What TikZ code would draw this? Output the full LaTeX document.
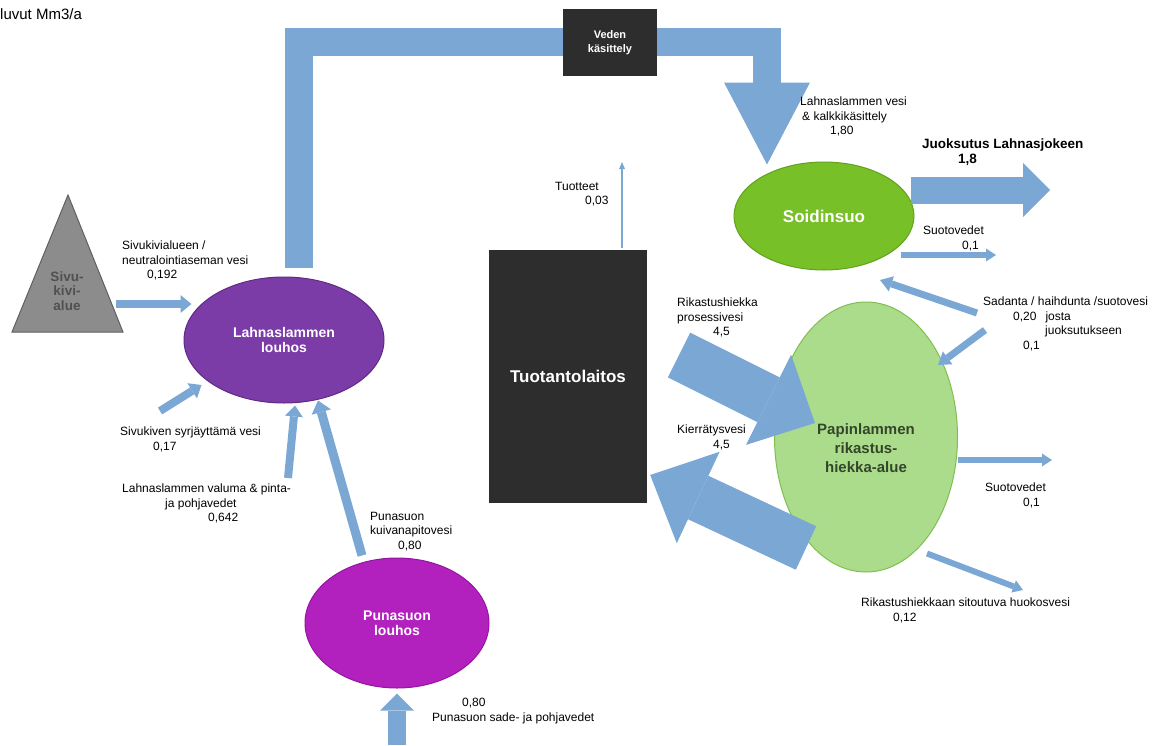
\documentclass[tikz,border=0pt]{standalone}
\usepackage{fontspec}
\setmainfont{Liberation Sans}
\usetikzlibrary{arrows.meta, positioning, shapes.geometric}

\definecolor{flowblue}{RGB}{123,167,212}
\definecolor{darkbox}{RGB}{45,45,45}
\definecolor{rockgray}{RGB}{140,140,140}
\definecolor{rockedge}{RGB}{95,95,95}
\definecolor{rocktext}{RGB}{80,80,80}
\definecolor{lahnafill}{RGB}{124,60,168}
\definecolor{lahnaedge}{RGB}{96,42,132}
\definecolor{punafill}{RGB}{178,32,190}
\definecolor{punaedge}{RGB}{148,22,160}
\definecolor{soidfill}{RGB}{120,192,40}
\definecolor{soidedge}{RGB}{98,160,30}
\definecolor{papinfill}{RGB}{170,220,140}
\definecolor{papinedge}{RGB}{128,190,80}
\definecolor{papintext}{RGB}{52,70,42}

\tikzset{
  lbl/.style={font=\fontsize{12}{14.5}\selectfont, align=left, anchor=north west, inner sep=0pt},
  pond/.style={ellipse, draw, line width=1pt, inner sep=0pt, align=center, text=white,
    font=\bfseries\fontsize{14}{15.5}\selectfont},
  plant/.style={rectangle, fill=darkbox, text=white, inner sep=0pt, align=center},
  flow/.style n args={3}{draw=flowblue, line width=#1,
    -{Triangle[width=#2, length=#3, line width=0pt]}}
}

\begin{document}
\begin{tikzpicture}[x=1pt, y=-1pt]
  \useasboundingbox (0,0) rectangle (1165,745);

  % Side rock area
  \fill[rockgray, draw=rockedge, line width=1pt] (68,195) -- (123,332) -- (12,332) -- cycle;
  \node[text=rocktext, font=\bfseries\fontsize{13.5}{14.5}\selectfont, align=center] (sivu) at (67,291) {Sivu-\\kivi-\\alue};

  % Pits, ponds and plant
  \node[pond, fill=lahnafill, draw=lahnaedge, minimum width=200pt, minimum height=126pt] (lahna) at (284,340) {Lahnaslammen\\louhos};
  \node[pond, fill=punafill, draw=punaedge, minimum width=184pt, minimum height=130pt] (puna) at (397,623) {Punasuon\\louhos};
  \node[pond, fill=soidfill, draw=soidedge, minimum width=180pt, minimum height=108pt,
    font=\bfseries\fontsize{17}{19}\selectfont] (soid) at (824,216) {Soidinsuo};
  \node[pond, fill=papinfill, draw=papinedge, minimum width=183pt, minimum height=270pt] (papin) at (866,437) {};
  \node[plant, minimum width=158pt, minimum height=253pt, font=\bfseries\fontsize{17}{19}\selectfont] (tuotanto) at (568,376.5) {Tuotantolaitos};

  % Pipe via water treatment
  \draw[flow={28pt}{86pt}{82pt}, line join=miter] ([xshift=14.5pt,yshift=9pt]lahna.north) -- (298.5,42) -- (767,42) -- ([xshift=-57pt,yshift=-3pt]soid.north);
  \node[plant, minimum width=94pt, minimum height=67pt, font=\bfseries\fontsize{11}{14}\selectfont] (veden) at (610,42.5) {Veden\\käsittely};

  % Free ends
  \coordinate (sivuOut) at (116,304);
  \coordinate (syrjIn) at (160,411);
  \coordinate (valumaIn) at (288,478);
  \coordinate (sadeIn) at (397,745);
  \coordinate (tuotteetOut) at (622,162);
  \coordinate (juoksOut) at (1050,190);
  \coordinate (suoto1Out) at (996,255);
  \coordinate (sadanta1) at (977,313);
  \coordinate (sadanta2) at (985,330);
  \coordinate (suoto2Out) at (1052,460);
  \coordinate (huokosOut) at (1023,590);
  \coordinate (prosessiIn) at (679,355);

  % Flows
  \draw[flow={8pt}{18pt}{11pt}] (sivuOut) -- ([xshift=8pt,yshift=36pt]lahna.west);
  \draw[flow={8pt}{18pt}{11pt}] (syrjIn) -- ([xshift=18pt,yshift=-45pt]lahna.west);
  \draw[flow={8pt}{18pt}{11pt}] (valumaIn) -- ([xshift=11pt,yshift=-2pt]lahna.south);
  \draw[flow={9pt}{20pt}{12pt}] ([xshift=-35pt,yshift=2pt]puna.north) -- ([xshift=34pt,yshift=3pt]lahna.south);
  \draw[flow={18pt}{34pt}{17pt}] (sadeIn) -- ([yshift=-5pt]puna.south);
  \draw[flow={2pt}{6pt}{7pt}] ([xshift=54pt,yshift=2pt]tuotanto.north) -- (tuotteetOut);
  \draw[flow={27pt}{54pt}{27pt}] ([xshift=-4pt,yshift=26pt]soid.east) -- (juoksOut);
  \draw[flow={6pt}{13pt}{10pt}] ([xshift=-14pt,yshift=-39pt]soid.east) -- (suoto1Out);
  \draw[flow={7pt}{16pt}{12pt}] (sadanta1) -- ([xshift=56pt,yshift=-64pt]soid.center);
  \draw[flow={7pt}{16pt}{12pt}] (sadanta2) -- ([xshift=72pt,yshift=72pt]papin.center);
  \draw[flow={50pt}{101pt}{52pt}] (prosessiIn) -- ([xshift=-51pt,yshift=14pt]papin.center);
  \draw[flow={48pt}{101pt}{53pt}] ([xshift=-60pt,yshift=-111pt]papin.center) -- ([xshift=3pt,yshift=-98.5pt]tuotanto.east);
  \draw[flow={6pt}{13pt}{10pt}] ([yshift=-23pt]papin.east) -- (suoto2Out);
  \draw[flow={6pt}{13pt}{10pt}] ([xshift=61pt,yshift=19pt]papin.south) -- (huokosOut);

  \node[text=papintext, font=\bfseries\fontsize{15}{19}\selectfont, align=center] (papinText) at ([yshift=-11pt]papin.center) {Papinlammen\\rikastus-\\hiekka-alue};

  % Labels
  \node[lbl, font=\fontsize{15}{16}\selectfont] (lblUnits) at (0,8) {luvut Mm3/a};
  \node[lbl] (lblSivu) at (122,241) {Sivukivialueen /\\neutralointiaseman vesi\\\hspace*{25pt}0,192};
  \node[lbl] (lblSyrj) at (120,427) {Sivukiven syrjäyttämä vesi\\\hspace*{33pt}0,17};
  \node[lbl] (lblValuma) at (122,484) {Lahnaslammen valuma \& pinta-\\\hspace*{43pt}ja pohjavedet\\\hspace*{86pt}0,642};
  \node[lbl] (lblKuiva) at (370,512) {Punasuon\\kuivanapitovesi\\\hspace*{28pt}0,80};
  \node[lbl] (lblSade) at (432,698) {\hspace*{30pt}0,80\\Punasuon sade- ja pohjavedet};
  \node[lbl] (lblTuotteet) at (555,182) {Tuotteet\\\hspace*{30pt}0,03};
  \node[lbl] (lblKalkki) at (800,97) {Lahnaslammen vesi\\\hspace*{2pt}\& kalkkikäsittely\\\hspace*{30pt}1,80};
  \node[lbl, font=\bfseries\fontsize{13.5}{15}\selectfont] (lblJuoks) at (922,139) {Juoksutus Lahnasjokeen\\\hspace*{36pt}1,8};
  \node[lbl] (lblSuoto1) at (923,226) {Suotovedet\\\hspace*{39pt}0,1};
  \node[lbl] (lblSadanta) at (983,297) {Sadanta / haihdunta /suotovesi\\\hspace*{30pt}0,20\hspace{9pt}josta\\\hspace*{62pt}juoksutukseen\\\hspace*{40pt}0,1};
  \node[lbl] (lblProsessi) at (677,298) {Rikastushiekka\\prosessivesi\\\hspace*{36pt}4,5};
  \node[lbl] (lblKierr) at (677,425) {Kierrätysvesi\\\hspace*{36pt}4,5};
  \node[lbl] (lblSuoto2) at (985,483) {Suotovedet\\\hspace*{38pt}0,1};
  \node[lbl] (lblHuokos) at (861,598) {Rikastushiekkaan sitoutuva huokosvesi\\\hspace*{32pt}0,12};
\end{tikzpicture}
\end{document}
